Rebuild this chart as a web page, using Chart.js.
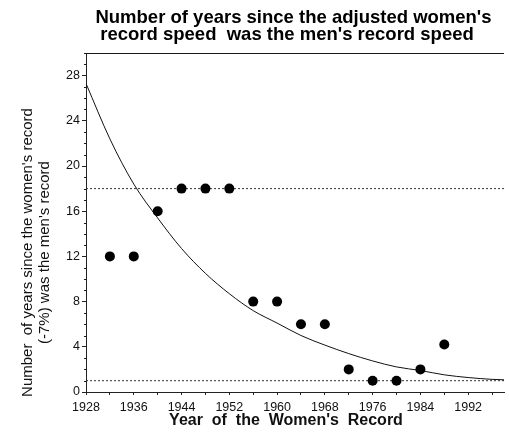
<!DOCTYPE html>
<html>
<head>
<meta charset="utf-8">
<script src="https://cdn.jsdelivr.net/npm/chart.js@4"></script>
<style>
  html, body { margin: 0; padding: 0; background: #fff; }
  canvas { display: block; }
</style>
</head>
<body>
<canvas id="chart" width="509" height="437"></canvas>
<script>
// Year of each women's record and how many years earlier the men's record
// had the same (adjusted) speed
const recordYears = [1932, 1936, 1940, 1944, 1948, 1952, 1956, 1960, 1964, 1968, 1972, 1976, 1980, 1984, 1988];
const yearsBehind = [12, 12, 16, 18, 18, 18, 8, 8, 6, 6, 2, 1, 1, 2, 4.2];

// Fitted decay curve, sampled along the year axis
const curveYears  = [1928, 1932, 1936, 1940, 1944, 1948, 1952, 1956, 1960, 1964, 1968, 1972, 1976, 1980, 1984, 1988, 1992, 1996, 1998];
const curveValues = [27.3, 22.4, 18.4, 15.4, 12.7, 10.5, 8.7, 7.2, 6.1, 5.0, 4.15, 3.4, 2.75, 2.22, 1.9, 1.52, 1.28, 1.12, 1.08];

// Dotted horizontal reference levels
const referenceLevels = [18, 1];

// Axis ranges and ticks
const yearRange = [1928, 1998];
const valueRange = [0, 30];
const xTickYears = [1928, 1932, 1936, 1940, 1944, 1948, 1952, 1956, 1960, 1964, 1968, 1972, 1976, 1980, 1984, 1988, 1992, 1996];
const xLabelYears = [1928, 1936, 1944, 1952, 1960, 1968, 1976, 1984, 1992];
const yTickValues = [0, 4, 8, 12, 16, 20, 24, 28];

const titleLines = ["Number of years since the adjusted women's", "record speed  was the men's record speed"];
const yTitleLines = ["Number  of years since the women's record", "(-7%) was the men's record"];
const xTitle = "Year  of  the  Women's  Record";

const FONT = "'Liberation Sans', Arial, Helvetica, sans-serif";
const INK = '#111';

// Heading, frame top line, minor y ticks and the two axis captions
const decorations = {
  id: 'decorations',
  afterDraw(chart) {
    const { ctx, chartArea: a, scales } = chart;
    const cx = (a.left + a.right) / 2;
    ctx.save();
    ctx.fillStyle = '#1a1a1a';
    ctx.fillRect(Math.round(a.left), Math.round(a.top), Math.round(a.right - a.left), 1);

    const ys = scales.y;
    for (let v = valueRange[0]; v <= valueRange[1]; v++) {
      if (yTickValues.includes(v)) continue;
      const p = Math.round(ys.getPixelForValue(v));
      ctx.fillRect(Math.round(a.left) - 2, p, 2, 1);
    }

    ctx.textAlign = 'center';
    ctx.textBaseline = 'alphabetic';

    ctx.fillStyle = '#000';
    ctx.font = 'bold 18.5px ' + FONT;
    ctx.fillText(titleLines[0], cx - 1.5, a.top - 30);
    ctx.fillText(titleLines[1], cx - 8, a.top - 13);

    ctx.fillStyle = INK;
    ctx.font = '15px ' + FONT;
    const cy = (a.top + a.bottom) / 2 + 30;
    yTitleLines.forEach((t, i) => {
      ctx.save();
      ctx.translate(32 + i * 17, cy);
      ctx.rotate(-Math.PI / 2);
      ctx.fillText(t, 0, 0);
      ctx.restore();
    });

    ctx.font = 'bold 16px ' + FONT;
    ctx.fillText(xTitle, cx - 9, a.bottom + 33);
    ctx.restore();
  }
};

const lineFrom = (xs, ys) => xs.map((x, i) => ({ x, y: ys[i] }));

const datasets = [
  {
    type: 'scatter',
    data: lineFrom(recordYears, yearsBehind),
    pointRadius: 5,
    pointBackgroundColor: '#000',
    pointBorderWidth: 0,
    order: 0
  },
  {
    type: 'line',
    data: lineFrom(curveYears, curveValues),
    borderColor: '#111',
    borderWidth: 1,
    pointRadius: 0,
    cubicInterpolationMode: 'monotone',
    fill: false,
    order: 1
  },
  ...referenceLevels.map(level => ({
    type: 'line',
    data: yearRange.map(x => ({ x, y: level })),
    borderColor: '#333',
    borderWidth: 1,
    borderDash: [2, 2],
    pointRadius: 0,
    fill: false,
    order: 2
  }))
];

Chart.defaults.font.family = FONT;
Chart.defaults.color = INK;

new Chart(document.getElementById('chart'), {
  data: { datasets },
  options: {
    responsive: false,
    devicePixelRatio: 1,
    animation: false,
    layout: { padding: { top: 53, left: 0, right: 0, bottom: 0 } },
    plugins: {
      legend: { display: false },
      tooltip: { enabled: false },
      title: { display: false }
    },
    scales: {
      x: {
        type: 'linear',
        position: 'bottom',
        min: yearRange[0],
        max: yearRange[1],
        afterBuildTicks: s => { s.ticks = xTickYears.map(value => ({ value })); },
        afterFit: s => { s.height = 45; },
        ticks: {
          autoSkip: false,
          maxRotation: 0,
          padding: 5,
          font: { size: 12.5 },
          callback: v => (xLabelYears.includes(v) ? String(v) : '')
        },
        grid: { drawOnChartArea: false, drawTicks: true, tickLength: 3, color: '#222' },
        border: { display: true, color: '#222', width: 1 }
      },
      y: {
        type: 'linear',
        min: valueRange[0],
        max: valueRange[1],
        afterBuildTicks: s => { s.ticks = yTickValues.map(value => ({ value })); },
        afterFit: s => { s.width = 86; },
        ticks: {
          autoSkip: false,
          padding: 2,
          font: { size: 12.5 },
          callback: v => String(v)
        },
        grid: { drawOnChartArea: false, drawTicks: true, tickLength: 4, color: '#222' },
        border: { display: true, color: '#222', width: 1 }
      }
    }
  },
  plugins: [decorations]
});
</script>
</body>
</html>
